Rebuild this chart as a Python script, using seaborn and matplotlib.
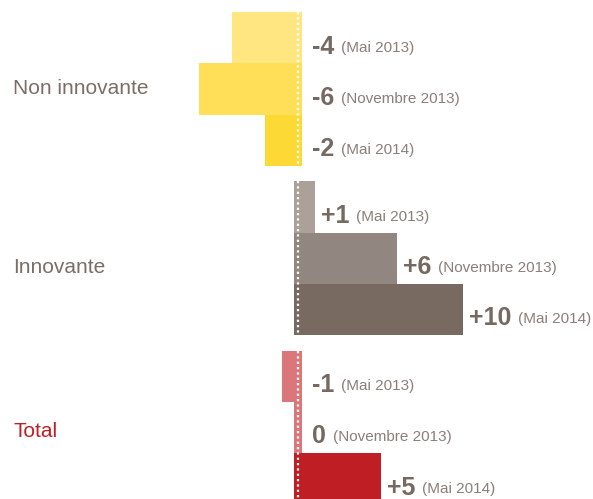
import pandas as pd
import matplotlib
matplotlib.use("Agg")
import matplotlib.pyplot as plt
import seaborn as sns

# --- data ---
groups = ["Non innovante", "Innovante", "Total"]
periods = ["Mai 2013", "Novembre 2013", "Mai 2014"]
non_innovante = [-4, -6, -2]
innovante = [1, 6, 10]
total = [-1, 0, 5]

colors = {
    "Non innovante": ["#FFE680", "#FEDF57", "#FDD935"],
    "Innovante": ["#ABA19A", "#918780", "#786A61"],
    "Total": ["#D9777B", "#D9777B", "#BE1E24"],
}
group_text = {"Non innovante": "#7A6E67", "Innovante": "#7A6E67", "Total": "#BE1E24"}

rows = []
gap = 0.3
for gi, (g, vals) in enumerate(zip(groups, [non_innovante, innovante, total])):
    for pi, (p, v) in enumerate(zip(periods, vals)):
        rows.append({"group": g, "period": p, "value": v,
                     "pos": gi * (3 + gap) + pi, "key": f"{g}|{p}",
                     "color": colors[g][pi]})
df = pd.DataFrame(rows)

sns.set_style("white")
fig = plt.figure(figsize=(5.93, 4.99), dpi=100)
ax = fig.add_axes([0, 0, 1, 1])

# zero at ~298 px, 16.5 px per unit; bars 51.3 px tall, top bar starts at 12 px
PX = 16.5
ax.set_xlim(-298 / PX, 295 / PX)
ytop = -0.5 - 12 / 51.3
ylim = (ytop + 499 / 51.3, ytop)

sns.barplot(data=df, x="value", y="pos", hue="key", orient="h",
            native_scale=True, dodge=False, width=1.0, legend=False,
            palette=dict(zip(df["key"], df["color"])), saturation=1,
            linewidth=0, ax=ax)
# little stubs across the zero line
ax.barh(df["pos"], 0.5, left=-0.25, height=1.0, color=df["color"], linewidth=0)
ax.set_ylim(*ylim)

# white dotted zero line
for gi in range(3):
    y0 = gi * (3 + gap) - 0.5
    ax.vlines(0.03, y0, y0 + 3, colors="white", linewidth=1.6,
              linestyles=(0, (1, 1.4)))

ax.axis("off")

fig.canvas.draw()
renderer = fig.canvas.get_renderer()
for _, r in df.iterrows():
    v = r["value"]
    lab = f"+{v}" if v > 0 else ("0" if v == 0 else f"-{abs(v)}")
    if v > 0:
        xend, off = v, 6
    else:
        xend, off = 0, 14
    t = ax.annotate(lab, (xend, r["pos"] + 0.31), xytext=(off, 0),
                    textcoords="offset pixels", ha="left", va="baseline",
                    fontsize=18, fontweight="bold", color="#766961",
                    family="Liberation Sans")
    bb = t.get_window_extent(renderer=renderer)
    ax.annotate(f"({r['period']})", (xend, r["pos"] + 0.27),
                xytext=(off + bb.width + 7, 0), textcoords="offset pixels",
                ha="left", va="baseline", fontsize=11, color="#8A7F79",
                family="Liberation Sans")

label_shift = [0.10, 0.29, 0.19]
for gi, g in enumerate(groups):
    yc = gi * (3 + gap) + 1 + label_shift[gi]
    ax.text(13 / PX - 298 / PX, yc, g, ha="left", va="baseline",
            fontsize=15, color=group_text[g], family="Liberation Sans")

fig.savefig("out.png", dpi=100)
